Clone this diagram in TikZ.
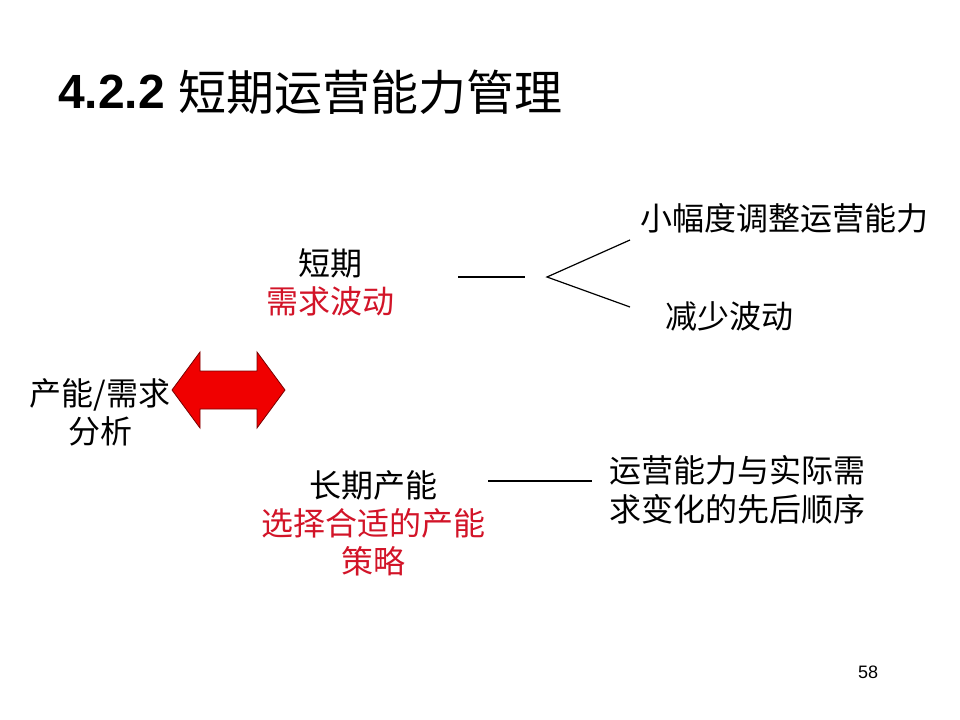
\documentclass[tikz,border=0pt]{standalone}
\usepackage{fontspec}
\usepackage{xcolor}
\usetikzlibrary{positioning}
\newfontfamily\cjk{Noto Sans CJK SC}
\newfontfamily\arialfont{Liberation Sans}
\definecolor{rojoTexto}{RGB}{210,20,40}
\definecolor{rojoFlecha}{RGB}{240,0,0}
\definecolor{bordeFlecha}{RGB}{120,0,0}
\tikzset{
  cp/title/.style={anchor=west, inner sep=0pt,
    font=\cjk\fontsize{36}{40}\selectfont},
  cp/txt/.style={align=center, inner sep=0pt,
    font=\cjk\fontsize{24}{28.5}\selectfont},
  cp/txtl/.style={align=left, inner sep=0pt, anchor=north west,
    font=\cjk\fontsize{24}{29}\selectfont},
  cp/line/.style={line width=0.9pt, draw=black},
  cp/dbl/.style={fill=rojoFlecha, draw=bordeFlecha, line width=0.6pt,
    line join=miter}
}

\begin{document}
\begin{tikzpicture}[x=0.75pt, y=-0.75pt]
  \useasboundingbox (0,0) rectangle (960,720);

  % title
  \node[cp/title] (num) at (58,92) {\arialfont\bfseries 4.2.2};
  \node[cp/title, right=10pt of num] (tit) {短期运营能力管理};

  % left
  \node[cp/txt] (ana) at (100,412) {产能/需求\\分析};
  \draw[cp/dbl] (172,390) -- (200,352) -- (200,371) -- (257,371)
        -- (257,352) -- (285,390) -- (257,428) -- (257,409)
        -- (200,409) -- (200,428) -- cycle;

  % short term
  \node[cp/txt] (st) at (330,282) {短期\\\textcolor{rojoTexto}{需求波动}};
  \node[cp/txt, anchor=west] (up) at (640,218) {小幅度调整运营能力};
  \node[cp/txt, anchor=west] (dn) at (665,316) {减少波动};
  \coordinate (a1) at (458,277);
  \coordinate (a2) at (525,277);
  \coordinate (v)  at (547,277);
  \coordinate (vu) at (630,240);
  \coordinate (vd) at (630,307);
  \draw[cp/line] (a1) -- (a2);
  \draw[cp/line] (vu) -- (v) -- (vd);

  % long term
  \node[cp/txt] (lt) at (373,523) {长期产能\\\textcolor{rojoTexto}{选择合适的产能}\\\textcolor{rojoTexto}{策略}};
  \node[cp/txtl] (seq) at (609,455) {运营能力与实际需\\求变化的先后顺序};
  \coordinate (b1) at (488,481);
  \coordinate (b2) at (592,481);
  \draw[cp/line] (b1) -- (b2);

  % page
  \node[font=\arialfont\fontsize{13.5}{16}\selectfont] (pg) at (868,672) {58};
\end{tikzpicture}
\end{document}
